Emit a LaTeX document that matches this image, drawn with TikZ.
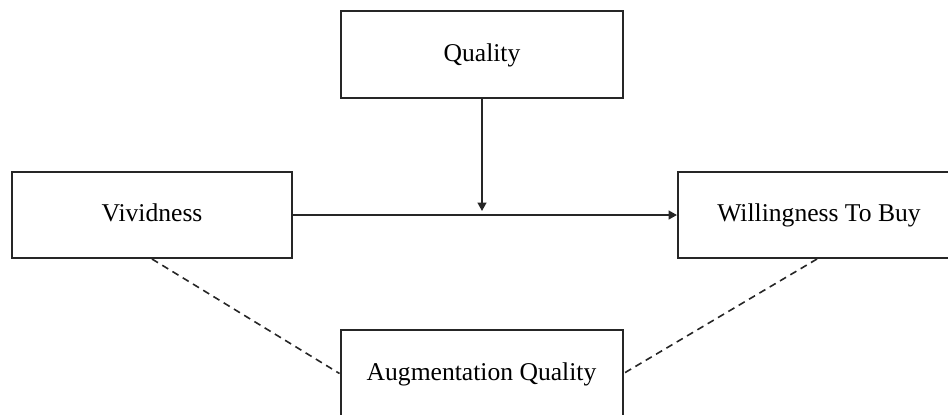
\documentclass[tikz,border=0pt]{standalone}
\usepackage{fontspec}
\setmainfont{Liberation Serif}
\usetikzlibrary{arrows.meta}
\begin{document}
\begin{tikzpicture}[x=0.5pt,y=-0.5pt,
  box/.style={draw=black!85, line width=1pt, rectangle, inner sep=0pt,
    minimum width=141pt, minimum height=43.5pt,
    text height=0.66em, text depth=0pt,
    font=\fontsize{12.8}{15}\selectfont},
  flow/.style={draw=black!85, line width=0.9pt,
    -{Triangle[length=4.2pt,width=4.4pt]}},
  link/.style={draw=black!85, line width=0.8pt, dash pattern=on 3.5pt off 2.5pt}]
  \useasboundingbox (0,0) rectangle (948,414);
  \path[clip] (0,0) rectangle (948,414);

  % constructs
  \node[box] (quality) at (482,54.5) {Quality};
  \node[box, minimum width=140pt, minimum height=43pt] (vivid) at (152,215) {Vividness};
  \node[box, minimum height=43pt] (wtb) at (819,215) {Willingness To Buy};
  \node[box] (augment) at (481.5,373.5) {Augmentation Quality};

  % main path and moderating effect
  \draw[flow] (vivid.east) -- (wtb.west);
  \draw[flow] (quality.south) -- ([yshift=2pt]quality.south |- vivid.east);

  % dashed links to the augmentation construct
  \draw[link] (vivid.south) -- (augment.west);
  \draw[link] ([xshift=-1pt]wtb.south) -- (augment.east);
\end{tikzpicture}
\end{document}
